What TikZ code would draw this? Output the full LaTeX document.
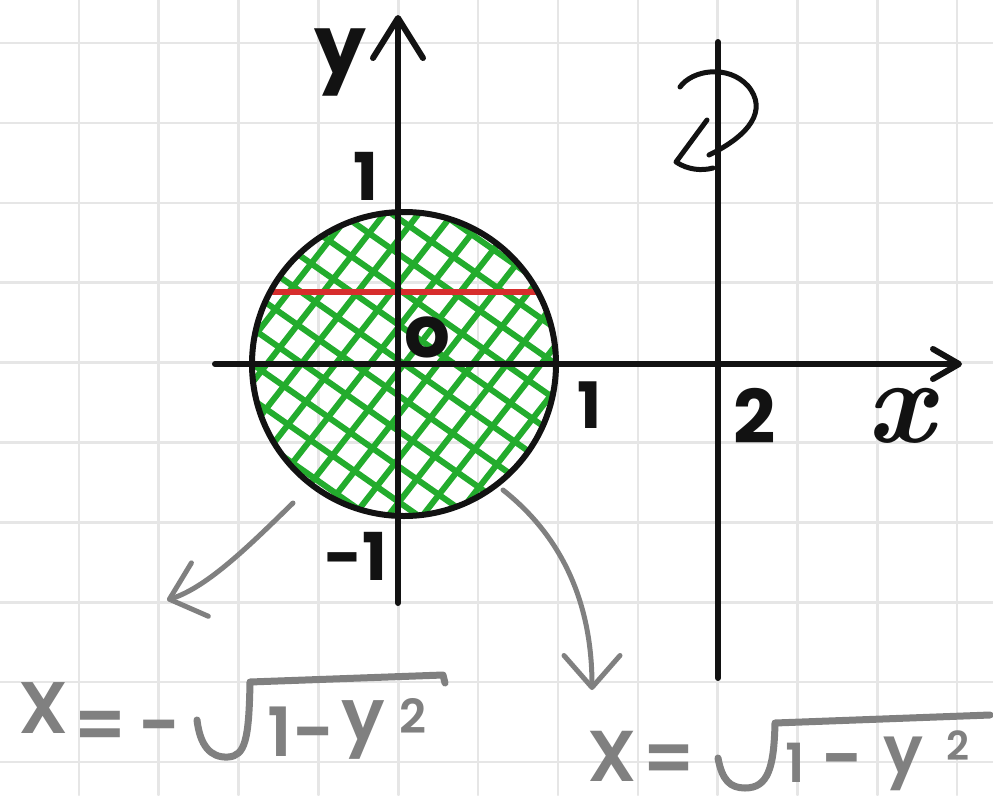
\documentclass[tikz,border=0pt]{standalone}
\usepackage{fontspec}
\setmainfont{Poppins}
\newfontfamily\lmroman{Latin Modern Roman}
\newfontfamily\grayfont{Poppins SemiBold}
\usetikzlibrary{arrows.meta}
\definecolor{gridc}{RGB}{230,230,230}
\definecolor{hatchc}{RGB}{35,172,45}
\definecolor{redl}{RGB}{215,45,45}
\definecolor{penc}{RGB}{18,18,18}
\definecolor{grayc}{RGB}{128,128,128}
\begin{document}
\begin{tikzpicture}[x=1pt,y=-1pt,line cap=round,line join=round,
  gridline/.style={draw=gridc,line width=2.5pt},
  ink/.style={draw=penc,line width=6pt},
  hatchline/.style={draw=hatchc,line width=6pt},
  pointer/.style={draw=grayc,line width=5pt,-{Straight Barb[length=32pt,width=56pt,round]}},
  lab/.style={text=penc,inner sep=0pt,font=\fontsize{#1}{#1}\selectfont\bfseries},
  glab/.style={text=grayc,inner sep=0pt,font=\grayfont\fontsize{#1}{#1}\selectfont},
  graystroke/.style={draw=grayc,line width=7pt}]
\useasboundingbox (0,0) rectangle (993,795);
\fill[white] (0,0) rectangle (993,795);
% grid paper
\foreach \i in {1,...,12} \draw[gridline] ({79.85*\i-1},0) -- ({79.85*\i-1},795);
\foreach \j in {0,...,9} \draw[gridline] (0,{43+79.9*\j}) -- (993,{43+79.9*\j});
% key points
\coordinate (O) at (398,364);
\coordinate (c) at (404,364);
\coordinate (xs) at (215,364);
\coordinate (xe) at (962,364);
\coordinate (ys) at (398,603);
\coordinate (ye) at (398,15);
\coordinate (ls) at (718,42);
\coordinate (le) at (718,678);
% hatching
\begin{scope}
\clip (c) circle (152);
\foreach \k in {-6,...,6}{
  \draw[hatchline] ({404+\k*27*0.788-220*0.616},{364+\k*27*0.616+220*0.788}) -- ({404+\k*27*0.788+220*0.616},{364+\k*27*0.616-220*0.788});
  \draw[hatchline] ({404-\k*29*0.574-220*0.819},{364+\k*29*0.819-220*0.574}) -- ({404-\k*29*0.574+220*0.819},{364+\k*29*0.819+220*0.574});
}
\end{scope}
% red chord
\coordinate (r1) at (273,292);
\coordinate (r2) at (538,292);
\draw[draw=redl,line width=6pt] (r1) -- (r2);
% axes
\draw[ink,-{Straight Barb[length=26pt,width=30pt,round]}] (xs) -- (xe);
\draw[ink,-{Straight Barb[length=40pt,width=50pt,round]}] (ys) -- (ye);
\draw[ink] (c) circle (152);
\draw[ink] (ls) -- (le);
% hand-drawn mark on the line
\draw[draw=penc,line width=5pt] (680,87) .. controls (692,70) and (728,64) .. (748,86) .. controls (768,110) and (750,135) .. (709,155);
\draw[draw=penc,line width=5pt] (707,120) -- (676,162) .. controls (688,170) and (702,171) .. (713,168);
% labels
\node[lab=82] (ylab) at (340,62) {y};
\node[lab=66] (one1) at (366,176) {1};
\node[lab=72] (olab) at (427,337) {o};
\node[lab=64] (one2) at (590,405) {1};
\node[lab=74] (two) at (755,416) {2};
\node[text=penc,inner sep=0pt,font=\lmroman\fontsize{120}{120}\selectfont\bfseries\itshape] (xlab) at (900,416) {x};
\node[lab=66] (mone) at (356,556) {-1};
% left formula
\node[glab=73] (fX) at (44,708) {X};
\node[glab=73] (feq) at (100,731) {=};
\node[glab=73] (fm) at (160,735) {-};
\draw[graystroke] (197,720) .. controls (200,745) and (210,758) .. (228,757) .. controls (245,756) and (249,740) .. (250,682) -- (443,675) -- (445,683);
\node[glab=68] (f1) at (280,732) {1};
\node[glab=73] (fm2) at (314,742) {-};
\node[glab=72] (fy) at (363,730) {y};
\node[glab=47] (f2) at (413,716) {2};
% right formula
\node[glab=72] (gX) at (612,756) {X};
\node[glab=72] (geq) at (669,764) {=};
\draw[graystroke] (718,758) .. controls (722,780) and (730,788) .. (745,788) .. controls (768,788) and (774,768) .. (775,723) -- (990,715);
\node[glab=54] (g1) at (795,763) {1};
\node[glab=72] (gm) at (842,769) {-};
\node[glab=66] (gy) at (903,764) {y};
\node[glab=40] (g2) at (958,746) {2};
% pointers
\coordinate (p1s) at (293,503);
\coordinate (p1e) at (167,600);
\coordinate (p2s) at (503,490);
\coordinate (p2e) at (592,690);
\draw[pointer] (p1s) .. controls (252,543) and (208,587) .. (p1e);
\draw[pointer] (p2s) .. controls (560,535) and (592,600) .. (p2e);
\end{tikzpicture}
\end{document}
